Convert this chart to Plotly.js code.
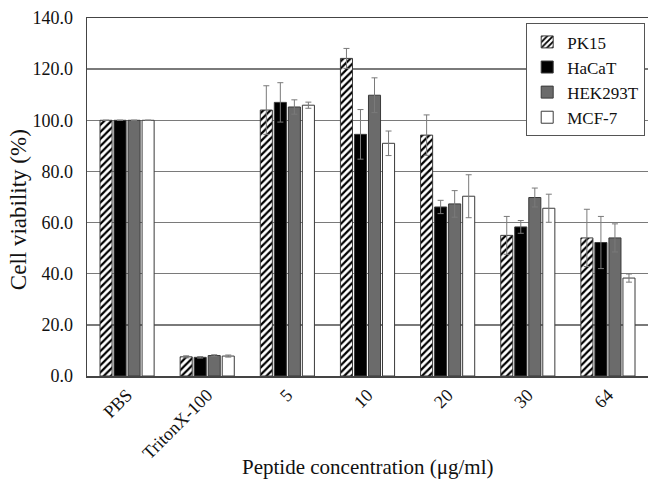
<!DOCTYPE html>
<html>
<head>
<meta charset="utf-8">
<script src="https://cdn.plot.ly/plotly-3.0.1.min.js"></script>
<style>html,body{margin:0;padding:0;background:#fff;}#chart{width:648px;height:487px;}</style>
</head>
<body>
<div id="chart"></div>
<script>
const categories = ["PBS", "TritonX-100", "5", "10", "20", "30", "64"];
const seriesNames = ["PK15", "HaCaT", "HEK293T", "MCF-7"];
const pk15 = [100, 7.5, 104, 124.2, 94.2, 55, 54];
const pk15Err = [0, 0.4, 9.5, 3.9, 7.9, 7.4, 11.2];
const hacat = [100, 7.3, 107, 94.5, 66.1, 58.3, 52.2];
const hacatErr = [0, 0.3, 7.7, 9.7, 2.6, 2.5, 10.2];
const hek = [100, 8.0, 105.2, 109.8, 67.3, 69.8, 54];
const hekErr = [0, 0.3, 2.8, 6.8, 5.2, 3.7, 5.5];
const mcf7 = [100, 7.8, 105.9, 91, 70.3, 65.6, 38.3];
const mcf7Err = [0, 0.4, 1.2, 4.8, 8.4, 5.5, 1.6];
const xTitle = "Peptide concentration (μg/ml)";
const yTitle = "Cell viability (%)";

const values = [pk15, hacat, hek, mcf7];
const errors = [pk15Err, hacatErr, hekErr, mcf7Err];
const fills = ["white", "black", "#6b6b6b", "white"];
const FONT = "'Times New Roman', 'Liberation Serif', serif";

const traces = seriesNames.map((name, i) => {
  const marker = {
    color: fills[i],
    line: {color: "#3a3a3a", width: 1}
  };
  if (i === 0) {
    marker.pattern = {shape: "/", fgcolor: "black", bgcolor: "white", size: 5, solidity: 0.45};
  }
  return {
    type: "bar",
    name: name,
    x: categories,
    y: values[i],
    marker: marker,
    error_y: {type: "data", array: errors[i], visible: true, color: "#7a7a7a", thickness: 1, width: 3}
  };
});

const layout = {
  width: 648,
  height: 487,
  margin: {l: 87, r: 0, t: 18, b: 111},
  paper_bgcolor: "white",
  plot_bgcolor: "white",
  font: {family: FONT, size: 18, color: "#111"},
  barmode: "group",
  bargap: 0.30,
  bargroupgap: 0.14,
  showlegend: true,
  legend: {
    x: 0.995, xanchor: "right", y: 0.985, yanchor: "top",
    bgcolor: "white", bordercolor: "#555", borderwidth: 1,
    font: {family: FONT, size: 17, color: "#111"}, itemwidth: 30
  },
  xaxis: {
    type: "category",
    range: [-0.5, 6.5],
    tickangle: -45,
    showline: true, linecolor: "#444", linewidth: 1.5, mirror: true,
    showgrid: false, ticks: "",
    tickfont: {family: FONT, size: 18, color: "#111"},
    automargin: false
  },
  yaxis: {
    range: [0, 140],
    dtick: 20,
    tickformat: ".1f",
    showline: true, linecolor: "#444", linewidth: 1.5,
    showgrid: true, gridcolor: "#7a7a7a", gridwidth: 1.3,
    zeroline: false,
    ticks: "", ticklabelstandoff: 9,
    tickfont: {family: FONT, size: 18, color: "#111"},
    automargin: false
  },
  annotations: [
    {text: xTitle, xref: "paper", yref: "paper", x: 0.5, y: -0.255, xanchor: "center", yanchor: "middle",
     showarrow: false, font: {family: FONT, size: 21, color: "#111"}},
    {text: yTitle, xref: "paper", yref: "paper", x: -0.123, y: 0.466, xanchor: "center", yanchor: "middle",
     textangle: -90, showarrow: false, font: {family: FONT, size: 23, color: "#111"}}
  ]
};

Plotly.newPlot("chart", traces, layout, {displayModeBar: false, staticPlot: true});
</script>
</body>
</html>
